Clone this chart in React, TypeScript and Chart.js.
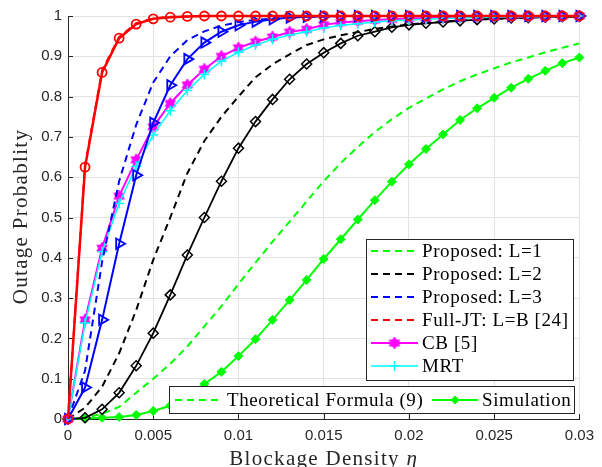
import React, { useEffect, useRef } from 'react';
import { Chart, registerables } from 'chart.js';

Chart.register(...registerables);

// ---------- data ----------
const eta = [
  0, 0.001, 0.002, 0.003, 0.004, 0.005, 0.006, 0.007, 0.008, 0.009, 0.01,
  0.011, 0.012, 0.013, 0.014, 0.015, 0.016, 0.017, 0.018, 0.019, 0.02,
  0.021, 0.022, 0.023, 0.024, 0.025, 0.026, 0.027, 0.028, 0.029, 0.03,
];

const xTickValues = [0, 0.005, 0.01, 0.015, 0.02, 0.025, 0.03];
const xTickLabels = ['0', '0.005', '0.01', '0.015', '0.02', '0.025', '0.03'];
const yTickValues = [0, 0.1, 0.2, 0.3, 0.4, 0.5, 0.6, 0.7, 0.8, 0.9, 1];
const yTickLabels = ['0', '0.1', '0.2', '0.3', '0.4', '0.5', '0.6', '0.7', '0.8', '0.9', '1'];

const xTitleText = 'Blockage Density ';
const xTitleSymbol = '\u03B7';
const yTitle = 'Outage Probablity';

// Proposed (theory, dashed)
const theoryL1 = [0, 0.003, 0.013, 0.03, 0.065, 0.1, 0.137, 0.18, 0.23, 0.28, 0.335, 0.388, 0.44, 0.49, 0.54, 0.59, 0.635, 0.675, 0.712, 0.744, 0.772, 0.795, 0.818, 0.838, 0.855, 0.87, 0.885, 0.897, 0.91, 0.921, 0.932];
const theoryL2 = [0, 0.028, 0.08, 0.163, 0.27, 0.395, 0.5, 0.61, 0.69, 0.75, 0.8, 0.848, 0.88, 0.905, 0.928, 0.942, 0.952, 0.96, 0.968, 0.974, 0.979, 0.983, 0.986, 0.989, 0.991, 0.993, 0.995, 0.996, 0.997, 0.998, 0.999];
const theoryL3 = [0, 0.12, 0.39, 0.59, 0.73, 0.835, 0.9, 0.94, 0.962, 0.976, 0.985, 0.99, 0.994, 0.996, 0.998, 0.999, 1, 1, 1, 1, 1, 1, 1, 1, 1, 1, 1, 1, 1, 1, 1];
const theoryFullJT = [0, 0.63, 0.865, 0.948, 0.982, 0.994, 0.998, 0.999, 1, 1, 1, 1, 1, 1, 1, 1, 1, 1, 1, 1, 1, 1, 1, 1, 1, 1, 1, 1, 1, 1, 1];

// Simulation (solid with markers)
const simL1 = [0, 0.001, 0.003, 0.005, 0.01, 0.02, 0.033, 0.055, 0.087, 0.117, 0.156, 0.198, 0.246, 0.295, 0.345, 0.397, 0.446, 0.495, 0.543, 0.589, 0.632, 0.67, 0.706, 0.742, 0.771, 0.797, 0.822, 0.844, 0.864, 0.883, 0.897];
const simL2 = [0, 0.003, 0.024, 0.065, 0.132, 0.213, 0.308, 0.407, 0.5, 0.59, 0.672, 0.738, 0.793, 0.843, 0.881, 0.909, 0.932, 0.951, 0.961, 0.972, 0.978, 0.982, 0.985, 0.988, 0.991, 0.993, 0.995, 0.996, 0.997, 0.998, 0.999];
const simL3 = [0, 0.078, 0.246, 0.435, 0.605, 0.735, 0.828, 0.893, 0.934, 0.961, 0.977, 0.986, 0.992, 0.996, 0.998, 0.999, 1, 1, 1, 1, 1, 1, 1, 1, 1, 1, 1, 1, 1, 1, 1];
const simFullJT = [0, 0.625, 0.86, 0.945, 0.98, 0.993, 0.997, 0.999, 1, 1, 1, 1, 1, 1, 1, 1, 1, 1, 1, 1, 1, 1, 1, 1, 1, 1, 1, 1, 1, 1, 1];

// Benchmarks
const cbValues = [0, 0.246, 0.424, 0.553, 0.643, 0.725, 0.783, 0.829, 0.868, 0.9, 0.921, 0.936, 0.948, 0.96, 0.967, 0.978, 0.984, 0.987, 0.99, 0.992, 0.994, 0.995, 0.996, 0.997, 0.998, 0.998, 0.999, 0.999, 0.999, 1, 1];
const mrtValues = [0, 0.238, 0.415, 0.535, 0.627, 0.705, 0.765, 0.815, 0.855, 0.888, 0.91, 0.928, 0.942, 0.953, 0.961, 0.97, 0.977, 0.981, 0.985, 0.988, 0.99, 0.992, 0.994, 0.995, 0.996, 0.997, 0.998, 0.998, 0.999, 0.999, 1];

const mainLegendLabels = ['Proposed: L=1', 'Proposed: L=2', 'Proposed: L=3', 'Full-JT: L=B [24]', 'CB [5]', 'MRT'];
const bottomLegendLabels = ['Theoretical Formula (9)', 'Simulation'];

// ---------- styles ----------
const GREEN = '#00ff00';
const BLACK = '#000000';
const BLUE = '#0000ff';
const RED = '#ff0000';
const MAGENTA = '#ff00ff';
const CYAN = '#00ffff';
const AXIS = '#262626';
const GRID = '#e3e3e3';
const DASH = [7, 5];
const SERIF = '"Liberation Serif", "Times New Roman", serif';
const SANS = '"Liberation Sans", Arial, sans-serif';

function makeHexagram(r: number, color: string): HTMLCanvasElement {
  const c = document.createElement('canvas');
  const s = Math.ceil(2 * r + 4);
  c.width = s;
  c.height = s;
  const g = c.getContext('2d')!;
  const cx = s / 2;
  const cy = s / 2;
  g.fillStyle = color;
  g.strokeStyle = color;
  g.lineWidth = 1;
  for (const start of [-90, 90]) {
    g.beginPath();
    for (let k = 0; k < 3; k++) {
      const a = ((start + k * 120) * Math.PI) / 180;
      const px = cx + r * Math.cos(a);
      const py = cy + r * Math.sin(a);
      if (k === 0) g.moveTo(px, py);
      else g.lineTo(px, py);
    }
    g.closePath();
    g.fill();
    g.stroke();
  }
  return c;
}

type Marker = 'none' | 'hexagram' | 'cross' | 'diamondFilled';

function drawMarker(ctx: CanvasRenderingContext2D, m: Marker, x: number, y: number, color: string, hex: HTMLCanvasElement) {
  ctx.save();
  ctx.setLineDash([]);
  ctx.strokeStyle = color;
  ctx.fillStyle = color;
  if (m === 'hexagram') {
    ctx.drawImage(hex, x - hex.width / 2, y - hex.height / 2);
  } else if (m === 'cross') {
    ctx.lineWidth = 1.5;
    ctx.beginPath();
    ctx.moveTo(x - 5, y);
    ctx.lineTo(x + 5, y);
    ctx.moveTo(x, y - 5);
    ctx.lineTo(x, y + 5);
    ctx.stroke();
  } else if (m === 'diamondFilled') {
    ctx.beginPath();
    ctx.moveTo(x, y - 4.5);
    ctx.lineTo(x + 4.5, y);
    ctx.lineTo(x, y + 4.5);
    ctx.lineTo(x - 4.5, y);
    ctx.closePath();
    ctx.fill();
  }
  ctx.restore();
}

function setSpacing(ctx: CanvasRenderingContext2D, px: number) {
  const c = ctx as any;
  if ('letterSpacing' in c) c.letterSpacing = `${px}px`;
}

export default function App() {
  const canvasRef = useRef<HTMLCanvasElement | null>(null);

  useEffect(() => {
    const canvas = canvasRef.current;
    if (!canvas) return;
    const hex = makeHexagram(6, MAGENTA);

    const mainLegendItems = [
      { label: mainLegendLabels[0], color: GREEN, dash: DASH, width: 2, marker: 'none' as Marker },
      { label: mainLegendLabels[1], color: BLACK, dash: DASH, width: 2, marker: 'none' as Marker },
      { label: mainLegendLabels[2], color: BLUE, dash: DASH, width: 2, marker: 'none' as Marker },
      { label: mainLegendLabels[3], color: RED, dash: DASH, width: 2, marker: 'none' as Marker },
      { label: mainLegendLabels[4], color: MAGENTA, dash: [] as number[], width: 2, marker: 'hexagram' as Marker },
      { label: mainLegendLabels[5], color: CYAN, dash: [] as number[], width: 1.5, marker: 'cross' as Marker },
    ];
    const bottomLegendItems = [
      { label: bottomLegendLabels[0], color: GREEN, dash: DASH, width: 2, marker: 'none' as Marker },
      { label: bottomLegendLabels[1], color: GREEN, dash: [] as number[], width: 2, marker: 'diamondFilled' as Marker },
    ];

    const legendPlugin = {
      id: 'matlabLegends',
      beforeDatasetsDraw(chart: any) {
        // inward tick marks (MATLAB style)
        const ctx: CanvasRenderingContext2D = chart.ctx;
        const area = chart.chartArea;
        const xs = chart.scales.x;
        const ys = chart.scales.y;
        ctx.save();
        ctx.strokeStyle = AXIS;
        ctx.lineWidth = 1;
        ctx.beginPath();
        for (const v of xTickValues) {
          const px = Math.round(xs.getPixelForValue(v)) + 0.5;
          ctx.moveTo(px, area.bottom);
          ctx.lineTo(px, area.bottom - 5);
        }
        for (const v of yTickValues) {
          const py = Math.round(ys.getPixelForValue(v)) + 0.5;
          ctx.moveTo(area.left, py);
          ctx.lineTo(area.left + 5, py);
        }
        ctx.stroke();
        ctx.restore();
      },
      afterDraw(chart: any) {
        const ctx: CanvasRenderingContext2D = chart.ctx;
        const area = chart.chartArea;

        // axis titles
        ctx.save();
        ctx.fillStyle = AXIS;
        ctx.textBaseline = 'alphabetic';
        ctx.textAlign = 'left';
        setSpacing(ctx, 1.3);
        const upright = `21px ${SERIF}`;
        const italic = `italic 21px ${SERIF}`;
        ctx.font = upright;
        const w1 = ctx.measureText(xTitleText).width;
        ctx.font = italic;
        const w2 = ctx.measureText(xTitleSymbol).width;
        const startX = (area.left + area.right) / 2 - (w1 + w2) / 2;
        ctx.font = upright;
        ctx.fillText(xTitleText, startX, 465);
        ctx.font = italic;
        ctx.fillText(xTitleSymbol, startX + w1, 465);

        ctx.font = upright;
        ctx.textAlign = 'center';
        ctx.translate(27, (area.top + area.bottom) / 2 - 1);
        ctx.rotate(-Math.PI / 2);
        ctx.fillText(yTitle, 0, 0);
        ctx.restore();

        ctx.save();
        ctx.font = `19px ${SERIF}`;
        setSpacing(ctx, 0.6);
        ctx.textBaseline = 'middle';
        ctx.textAlign = 'left';

        // main legend box
        const bx = 366.5, by = 239.5, bw = 207, bh = 141;
        ctx.fillStyle = '#ffffff';
        ctx.fillRect(bx, by, bw, bh);
        ctx.strokeStyle = '#262626';
        ctx.lineWidth = 1;
        ctx.setLineDash([]);
        ctx.strokeRect(bx, by, bw, bh);
        mainLegendItems.forEach((it, i) => {
          const y = 251 + i * 23;
          ctx.save();
          ctx.strokeStyle = it.color;
          ctx.lineWidth = it.width;
          ctx.setLineDash(it.dash);
          ctx.beginPath();
          ctx.moveTo(371, y);
          ctx.lineTo(418, y);
          ctx.stroke();
          ctx.restore();
          drawMarker(ctx, it.marker, 394.5, y, it.color, hex);
          ctx.fillStyle = '#000000';
          ctx.fillText(it.label, 422, y + 1);
        });

        // bottom legend box
        const cx0 = 169.5, cy0 = 386.5, cw = 405, ch = 27;
        ctx.fillStyle = '#ffffff';
        ctx.fillRect(cx0, cy0, cw, ch);
        ctx.strokeStyle = '#262626';
        ctx.lineWidth = 1;
        ctx.setLineDash([]);
        ctx.strokeRect(cx0, cy0, cw, ch);
        const ly = 400;
        const segs = [
          { x0: 175, x1: 222, tx: 227 },
          { x0: 432, x1: 478, tx: 482 },
        ];
        bottomLegendItems.forEach((it, i) => {
          const s = segs[i];
          ctx.save();
          ctx.strokeStyle = it.color;
          ctx.lineWidth = it.width;
          ctx.setLineDash(it.dash);
          ctx.beginPath();
          ctx.moveTo(s.x0, ly);
          ctx.lineTo(s.x1, ly);
          ctx.stroke();
          ctx.restore();
          drawMarker(ctx, it.marker, (s.x0 + s.x1) / 2, ly, it.color, hex);
          ctx.fillStyle = '#000000';
          ctx.fillText(it.label, s.tx, ly + 1);
        });
        ctx.restore();
      },
    };

    const mk = (arr: number[]) => eta.map((x, i) => ({ x, y: arr[i] }));

    const chart = new Chart(canvas, {
      type: 'line',
      data: {
        datasets: [
          { label: 'Full-JT simulation', data: mk(simFullJT), borderColor: RED, backgroundColor: 'rgba(0,0,0,0)', borderWidth: 2.5, pointStyle: 'circle', pointRadius: 4.5, pointBorderWidth: 1.8, pointBorderColor: RED, pointBackgroundColor: 'rgba(0,0,0,0)', clip: false },
          { label: mainLegendLabels[3], data: mk(theoryFullJT), borderColor: RED, borderWidth: 2, borderDash: DASH, pointRadius: 0, clip: false },
          { label: 'L=3 simulation', data: mk(simL3), borderColor: BLUE, backgroundColor: 'rgba(0,0,0,0)', borderWidth: 2, pointStyle: 'triangle', rotation: 90, pointRadius: 6, pointBorderWidth: 1.8, pointBorderColor: BLUE, pointBackgroundColor: 'rgba(0,0,0,0)', clip: false },
          { label: mainLegendLabels[2], data: mk(theoryL3), borderColor: BLUE, borderWidth: 2, borderDash: DASH, pointRadius: 0, clip: false },
          { label: mainLegendLabels[5], data: mk(mrtValues), borderColor: CYAN, borderWidth: 1.5, pointStyle: 'cross', pointRadius: 5, pointBorderWidth: 1.5, pointBorderColor: CYAN, clip: false },
          { label: mainLegendLabels[4], data: mk(cbValues), borderColor: MAGENTA, borderWidth: 2, pointStyle: hex, pointRadius: 6, clip: false },
          { label: 'L=2 simulation', data: mk(simL2), borderColor: BLACK, backgroundColor: 'rgba(0,0,0,0)', borderWidth: 1.8, pointStyle: 'rectRot', pointRadius: 5, pointBorderWidth: 1.5, pointBorderColor: BLACK, pointBackgroundColor: 'rgba(0,0,0,0)', clip: false },
          { label: mainLegendLabels[1], data: mk(theoryL2), borderColor: BLACK, borderWidth: 2, borderDash: DASH, pointRadius: 0, clip: false },
          { label: bottomLegendLabels[1], data: mk(simL1), borderColor: GREEN, backgroundColor: GREEN, borderWidth: 2, pointStyle: 'rectRot', pointRadius: 4.5, pointBorderWidth: 1, pointBorderColor: GREEN, pointBackgroundColor: GREEN, clip: false },
          { label: mainLegendLabels[0], data: mk(theoryL1), borderColor: GREEN, borderWidth: 2, borderDash: DASH, pointRadius: 0, clip: false },
        ] as any,
      },
      options: {
        responsive: false,
        animation: false,
        devicePixelRatio: 1,
        events: [],
        layout: { padding: { top: 16, right: 21, left: 0, bottom: 0 } },
        elements: { line: { tension: 0, fill: false } },
        plugins: {
          legend: { display: false },
          tooltip: { enabled: false },
        },
        scales: {
          x: {
            type: 'linear',
            min: 0,
            max: 0.03,
            afterBuildTicks: (s: any) => {
              s.ticks = xTickValues.map((v) => ({ value: v }));
            },
            afterFit: (s: any) => {
              s.height = 48;
            },
            ticks: {
              autoSkip: false,
              maxRotation: 0,
              padding: 8,
              color: AXIS,
              font: { family: SANS, size: 15 },
              callback: (_v: any, i: number) => xTickLabels[i],
            },
            grid: { color: GRID, lineWidth: 1, drawTicks: false },
            border: { color: AXIS, width: 1 },
            title: { display: false, text: xTitleText + xTitleSymbol },
          },
          y: {
            type: 'linear',
            min: 0,
            max: 1,
            afterBuildTicks: (s: any) => {
              s.ticks = yTickValues.map((v) => ({ value: v }));
            },
            afterFit: (s: any) => {
              s.width = 68;
            },
            ticks: {
              autoSkip: false,
              padding: 6,
              color: AXIS,
              font: { family: SANS, size: 15 },
              callback: (_v: any, i: number) => yTickLabels[i],
            },
            grid: { color: GRID, lineWidth: 1, drawTicks: false },
            border: { color: AXIS, width: 1 },
            title: { display: false, text: yTitle },
          },
        },
      } as any,
      plugins: [legendPlugin],
    });

    return () => {
      chart.destroy();
    };
  }, []);

  return (
    <div style={{ position: 'absolute', left: 0, top: 0, width: 602, height: 467, background: '#ffffff' }}>
      <canvas ref={canvasRef} width={602} height={467} style={{ display: 'block' }} />
    </div>
  );
}
